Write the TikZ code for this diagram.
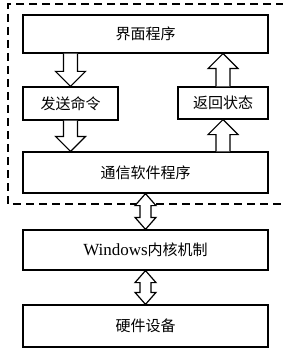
\documentclass[tikz,border=0pt]{standalone}
\usepackage{fontspec}
\setmainfont{Liberation Serif}
\newfontfamily\cjk{Noto Sans CJK SC}
\usetikzlibrary{calc}

% hollow block arrow, one head, vertical
\newcommand{\onearrow}[2]{%
    \draw [fill=white] let \p1=(#1), \p2=(#2), \n1={sign(\y2-\y1)} in
        (\x1-7,\y1) -- (\x1-7,\y2-15*\n1) -- (\x1-15,\y2-15*\n1) -- (\x2,\y2)
        -- (\x1+15,\y2-15*\n1) -- (\x1+7,\y2-15*\n1) -- (\x1+7,\y1);}
% hollow block arrow, two heads, vertical
\newcommand{\twoarrow}[2]{%
    \draw [fill=white] let \p1=(#1), \p2=(#2), \n1={sign(\y2-\y1)} in
        (\x1,\y1) -- (\x1-10.5,\y1+12*\n1) -- (\x1-5.5,\y1+12*\n1) -- (\x1-5.5,\y2-12*\n1)
        -- (\x1-10.5,\y2-12*\n1) -- (\x2,\y2) -- (\x1+10.5,\y2-12*\n1) -- (\x1+5.5,\y2-12*\n1)
        -- (\x1+5.5,\y1+12*\n1) -- (\x1+10.5,\y1+12*\n1) -- cycle;}

\begin{document}
\begin{tikzpicture}[x=1pt, y=1pt, line width=1.2pt,
        box/.style={draw, inner sep=0pt, font=\fontsize{15}{17}\selectfont\cjk},
        bigbox/.style={box, minimum width=245pt}]
        \useasboundingbox (0,0) rectangle (282,-350);
        % dashed frame round the software part
        \draw [dash pattern=on 8pt off 5pt] (284,-4) -- (8,-4) -- (8,-204) -- (284,-204);
        \node (UI) [bigbox, minimum height=38pt] at (145.5,-34) {界面程序};
        \node (Send) [box, minimum width=95pt, minimum height=33pt] at (70.5,-103.5) {发送命令};
        \node (Ret) [box, minimum width=90pt, minimum height=32pt] at (223,-103) {返回状态};
        \node (Comm) [bigbox, below of=UI, node distance=138.5pt, minimum height=41pt] {通信软件程序};
        \node (Win) [bigbox, below of=Comm, node distance=77.5pt, minimum height=40pt] {{\rmfamily\fontsize{17}{17}\selectfont Windows}内核机制};
        \node (HW) [bigbox, below of=Win, node distance=76pt, minimum height=42pt] {硬件设备};
        \onearrow{Send.north |- UI.south}{Send.north}
        \onearrow{Send.south}{Send.south |- Comm.north}
        \onearrow{Ret.north}{Ret.north |- UI.south}
        \onearrow{Ret.south |- Comm.north}{Ret.south}
        \twoarrow{Comm.south}{Win.north}
        \twoarrow{Win.south}{HW.north}
    \end{tikzpicture}
\end{document}
